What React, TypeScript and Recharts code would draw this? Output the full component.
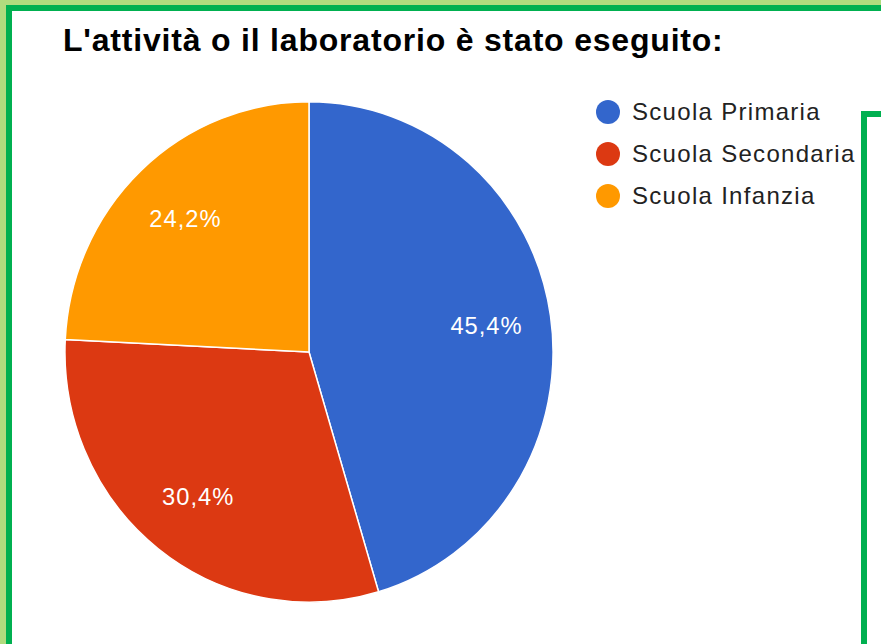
import React from 'react';
import { PieChart, Pie, Cell } from 'recharts';

const title = "L'attività o il laboratorio è stato eseguito:";
const categories = ['Scuola Primaria', 'Scuola Secondaria', 'Scuola Infanzia'];
const values = [45.4, 30.4, 24.2];
const valueLabels = ['45,4%', '30,4%', '24,2%'];
const colors = ['#3366cc', '#dc3912', '#ff9900'];

const data = categories.map((name, i) => ({ name, value: values[i] }));

const FONT = '"Liberation Sans", Arial, sans-serif';
const LIGHT = '#b0dc7e';
const DARK = '#00b050';

const renderLabel = (props: any) => {
  const { cx, cy, midAngle, outerRadius, index } = props;
  const RAD = Math.PI / 180;
  const r = outerRadius * 0.735;
  const x = cx + r * Math.cos(-midAngle * RAD);
  const y = cy + r * Math.sin(-midAngle * RAD);
  return (
    <text
      x={x}
      y={y}
      fill="#ffffff"
      textAnchor="middle"
      dominantBaseline="central"
      style={{ fontFamily: FONT, fontSize: 24, letterSpacing: 1 }}
    >
      {valueLabels[index]}
    </text>
  );
};

export default function App() {
  return (
    <div style={{ position: 'absolute', left: 0, top: 0, width: 881, height: 644, background: '#ffffff', overflow: 'hidden' }}>
      <div
        style={{
          position: 'absolute',
          left: 0,
          top: 0,
          transform: 'scale(0.988, 1.013)',
          transformOrigin: '309px 352px',
        }}
      >
        <PieChart width={881} height={644} margin={{ top: 0, right: 0, bottom: 0, left: 0 }}>
          <Pie
            data={data}
            dataKey="value"
            nameKey="name"
            cx={309}
            cy={352}
            outerRadius={247}
            startAngle={90}
            endAngle={-270}
            stroke="#ffffff"
            strokeWidth={1.5}
            label={renderLabel}
            labelLine={false}
            isAnimationActive={false}
          >
            {data.map((d, i) => (
              <Cell key={d.name} fill={colors[i]} />
            ))}
          </Pie>
        </PieChart>
      </div>
      <div style={{ position: 'absolute', left: 595, top: 91, fontFamily: FONT }}>
        {categories.map((name, i) => (
          <div key={name} style={{ display: 'flex', alignItems: 'center', height: 42 }}>
            <svg width={26} height={26} style={{ marginRight: 11, flex: 'none' }}>
              <circle cx={13} cy={13} r={12} fill={colors[i]} />
            </svg>
            <span style={{ fontSize: 24, color: '#222222', letterSpacing: 1.3, whiteSpace: 'nowrap' }}>{name}</span>
          </div>
        ))}
      </div>
      <div
        style={{
          position: 'absolute',
          left: 63,
          top: 20,
          fontFamily: FONT,
          fontWeight: 'bold',
          fontSize: 32,
          letterSpacing: 0.8,
          color: '#000000',
          whiteSpace: 'nowrap',
          lineHeight: '40px',
        }}
      >
        {title}
      </div>
      {/* frame */}
      <div style={{ position: 'absolute', left: 0, top: 0, width: 881, height: 5, background: LIGHT }} />
      <div style={{ position: 'absolute', left: 0, top: 0, width: 6, height: 644, background: LIGHT }} />
      <div style={{ position: 'absolute', left: 6, top: 5, width: 875, height: 6, background: DARK }} />
      <div style={{ position: 'absolute', left: 6, top: 5, width: 6, height: 639, background: DARK }} />
      <div style={{ position: 'absolute', left: 861, top: 111, width: 20, height: 6, background: DARK }} />
      <div style={{ position: 'absolute', left: 861, top: 111, width: 6, height: 533, background: DARK }} />
    </div>
  );
}
